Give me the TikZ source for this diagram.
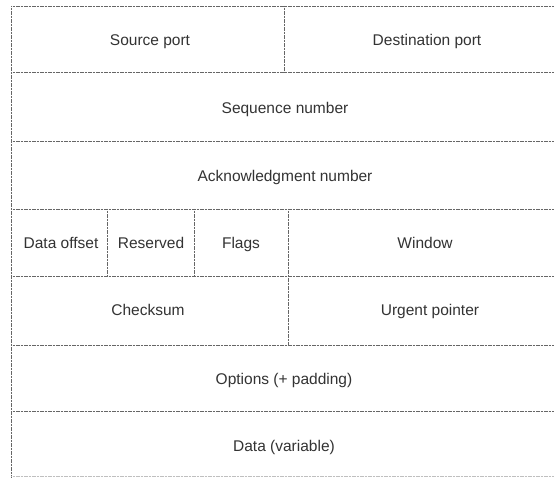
\documentclass[tikz,border=0pt]{standalone}
\usepackage{fontspec}
\setmainfont{Liberation Sans}
\tikzset{
	rule/.style={draw=black!60, line width=0.8pt, dash pattern=on 1.2pt off 0.4pt},
	field/.style={anchor=center, inner sep=0pt, text height=11.5pt, text depth=3.5pt,
		text=black!80, font=\fontsize{15.5}{18}\selectfont},
}

\begin{document}
\begin{tikzpicture}[x=1pt, y=-1pt]
	\useasboundingbox[fill=white] (0, 0) rectangle (554, 478);
	% Rows and cell borders:
	\draw[rule] (11, 6) -- (11, 478);
	\foreach \y in {6, 72, 141, 209, 276, 345, 411}
		\draw[rule] (11, \y) -- (560, \y);
	\draw[rule, draw=black!25] (11, 476) -- (560, 476);
	\draw[rule] (284, 6) -- (284, 72);
	\draw[rule] (107, 209) -- (107, 276);
	\draw[rule] (194, 209) -- (194, 276);
	\draw[rule] (288, 209) -- (288, 345);
	% Field names:
	\node[field] (srcport) at (150, 42){Source port};
	\node[field] (dstport) at (427, 42){Destination port};
	\node[field] (seqnum) at (285, 110){Sequence number};
	\node[field] (acknum) at (285, 178){Acknowledgment number};
	\node[field] (offset) at (61, 245){Data offset};
	\node[field] (reserved) at (151, 245){Reserved};
	\node[field] (flags) at (241, 245){Flags};
	\node[field] (window) at (425, 245){Window};
	\node[field] (checksum) at (148, 312){Checksum};
	\node[field] (urgent) at (430, 312){Urgent pointer};
	\node[field] (options) at (284, 380){Options (+ padding)};
	\node[field] (data) at (284, 447){Data (variable)};
\end{tikzpicture}
\end{document}
